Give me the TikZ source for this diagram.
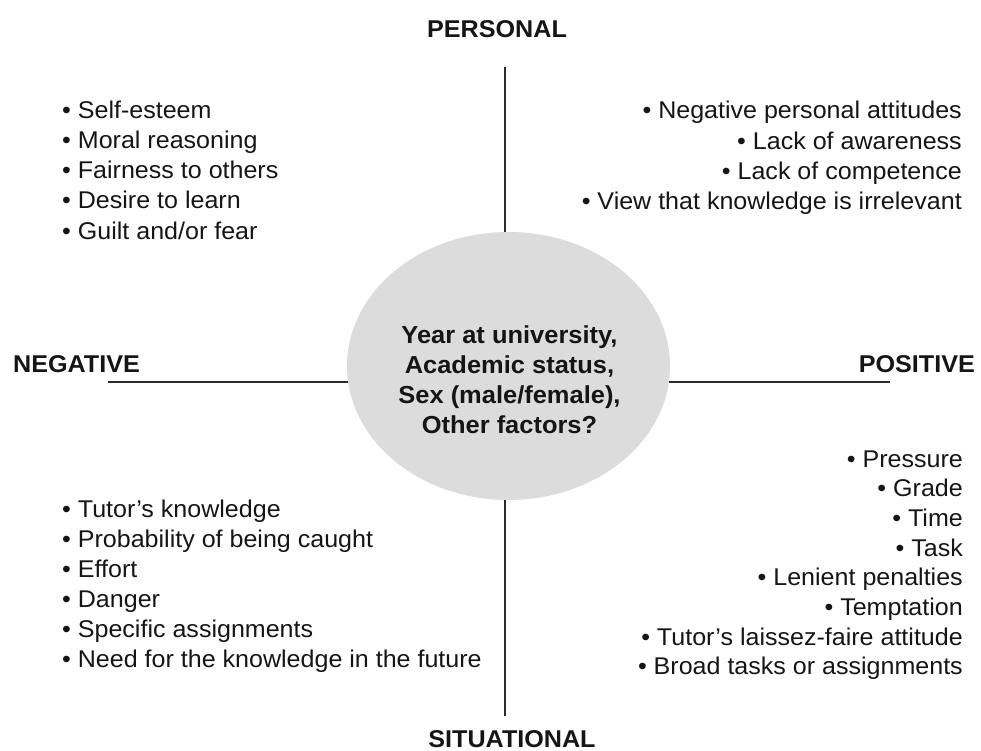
\documentclass[tikz,border=0pt]{standalone}
\usepackage{fontspec}
\setmainfont{Liberation Sans}[FakeStretch=1.035]
\usetikzlibrary{shapes.geometric,backgrounds}
\definecolor{axisgray}{HTML}{2B2B2B}
\definecolor{discgray}{HTML}{DCDCDC}
\definecolor{textc}{HTML}{151515}
\begin{document}
\begin{tikzpicture}[x=1pt,y=-1pt,
  axis/.style={draw=axisgray, line width=2.8pt},
  item/.style={inner sep=0pt, font=\fontsize{24.2}{30}\selectfont, text=textc},
  head/.style={inner sep=0pt, font=\bfseries\fontsize{24.3}{30}\selectfont, text=textc},
  disctext/.style={inner sep=0pt, font=\bfseries\fontsize{24.6}{30}\selectfont, text=textc, anchor=base}]
\useasboundingbox (0,0) rectangle (981,751);

% axis titles
\node[head, anchor=base] (personal) at (497,38) {PERSONAL};
\node[head, anchor=base west] (negative) at (13,372) {NEGATIVE};
\node[head, anchor=base east] (positive) at (975,372) {POSITIVE};
\node[head, anchor=base] (situational) at (512,747) {SITUATIONAL};

% central disc
\node[ellipse, fill=discgray, minimum width=323pt, minimum height=268pt, inner sep=0pt] (disc) at (508.5,366) {};
\node[disctext] (c1) at (509.5,343) {Year at university,};
\node[disctext] (c2) at (509.5,373) {Academic status,};
\node[disctext] (c3) at (509.5,403) {Sex (male/female),};
\node[disctext] (c4) at (509.5,433) {Other factors?};

% axes
\coordinate (ptop) at (505,67);
\coordinate (pbot) at (505,716);
\coordinate (pleft) at (108,382);
\coordinate (pright) at (890,382);
\begin{scope}[on background layer]
  \draw[axis] (ptop) -- (ptop |- disc.center);
  \draw[axis] (pbot) -- (pbot |- disc.center);
  \draw[axis] (pleft) -- (pleft -| disc.center);
  \draw[axis] (pright) -- (pright -| disc.center);
\end{scope}

% top-left list
\foreach \t [count=\i from 0] in {Self-esteem, Moral reasoning, Fairness to others, Desire to learn, Guilt and/or fear}
  \node[item, anchor=base west] (tl\i) at (62,119+30*\i) {• \t};

% top-right list
\foreach \t [count=\i from 0] in {Negative personal attitudes, Lack of awareness, Lack of competence, View that knowledge is irrelevant}
  \node[item, anchor=base east] (tr\i) at (962,119+30.3*\i) {• \t};

% bottom-left list
\foreach \t [count=\i from 0] in {Tutor’s knowledge, Probability of being caught, Effort, Danger, Specific assignments, Need for the knowledge in the future}
  \node[item, anchor=base west] (bl\i) at (62,517+30*\i) {• \t};

% bottom-right list
\foreach \t [count=\i from 0] in {Pressure, Grade, Time, Task, Lenient penalties, Temptation, Tutor’s laissez-faire attitude, Broad tasks or assignments}
  \node[item, anchor=base east] (br\i) at (963,467+29.7*\i) {• \t};
\end{tikzpicture}
\end{document}
